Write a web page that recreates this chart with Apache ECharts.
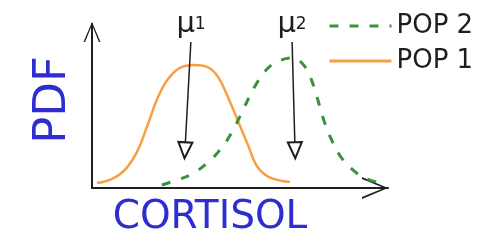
<!DOCTYPE html>
<html><head><meta charset="utf-8">
<script src="https://cdn.jsdelivr.net/npm/echarts@6/dist/echarts.min.js"></script>
<style>html,body{margin:0;padding:0;background:#fff}#c{width:500px;height:250px}</style>
</head><body><div id="c"></div>
<script>
// Hand-sketched densities (x: cortisol 0..100, y: pdf 0..1)
const seriesNames = ['POP 1', 'POP 2'];
const pop1X = [1.7, 6.8, 11.1, 15.2, 18.9, 22.3, 25.7, 29.7, 34.5, 38.9, 42.6, 45.9, 49.3, 52.7, 55.7, 59.8, 66.9];
const pop1Y = [0.030, 0.055, 0.110, 0.220, 0.390, 0.555, 0.665, 0.732, 0.750, 0.738, 0.677, 0.555, 0.409, 0.262, 0.134, 0.067, 0.037];
const pop2X = [23.6, 28.7, 33.8, 38.9, 43.2, 47.3, 51.0, 55.1, 59.5, 63.9, 67.6, 70.9, 73.6, 76.0, 78.4, 81.1, 84.1, 87.8, 92.2, 99.0];
const pop2Y = [0.018, 0.049, 0.085, 0.152, 0.232, 0.341, 0.476, 0.622, 0.732, 0.780, 0.793, 0.762, 0.683, 0.555, 0.409, 0.287, 0.189, 0.116, 0.061, 0.024];
// mean annotation arrows: [top x, tip x], shared [top y, tip y]
const meanSub = ['1', '2'];
const meanX = [[33.4, 31.4], [67.6, 68.6]];
const meanY = [0.89, 0.23];
const xAxisLabel = 'CORTISOL';
const yAxisLabel = 'PDF';

const ORANGE = '#f7a043', GREEN = '#3a923a', BLUE = '#2d2dd2', INK = '#1e1e1e';
const FONT = 'DejaVu Sans';
const zip = (xs, ys) => xs.map((x, i) => [x, ys[i]]);
const chevron = 'path://M0,26 L11,0 L22,26 L20,26 L11,4 L2,26 Z';

function meanLine(i) {
  return {
    silent: true,
    symbol: ['none', 'emptyTriangle'],
    symbolSize: [14, 16],
    lineStyle: { color: INK, width: 1.5, type: 'solid' },
    itemStyle: { color: INK },
    label: {
      show: true, position: 'start', distance: 3,
      formatter: '{m|μ}{s|' + meanSub[i] + '}',
      rich: {
        m: { fontSize: 29, color: INK, fontFamily: FONT },
        s: { fontSize: 17, color: INK, fontFamily: FONT }
      }
    },
    emphasis: { disabled: true },
    data: [[{ coord: [meanX[i][0], meanY[0]] }, { coord: [meanX[i][1], meanY[1]] }]]
  };
}

const legendBase = {
  left: 323, itemWidth: 62, itemHeight: 24, selectedMode: false,
  itemStyle: { opacity: 0 },
  lineStyle: { width: 3 },
  textStyle: { fontSize: 26, color: INK, fontFamily: FONT }
};

const chart = echarts.init(document.getElementById('c'), null, { renderer: 'canvas' });
chart.setOption({
  animation: false,
  grid: { left: 92, right: 112, top: 24, bottom: 62 },
  legend: [
    Object.assign({ data: [seriesNames[1]], top: 8 }, legendBase),
    Object.assign({ data: [seriesNames[0]], top: 43 }, legendBase)
  ],
  xAxis: {
    type: 'value', min: 0, max: 100,
    name: xAxisLabel, nameLocation: 'middle', nameGap: 10,
    nameTextStyle: { fontSize: 39, color: BLUE, fontFamily: FONT, padding: [0, 60, 0, 0], verticalAlign: 'top' },
    axisLine: { show: true, onZero: false, lineStyle: { color: INK, width: 2 },
      symbol: ['none', chevron], symbolSize: [22, 26], symbolOffset: [0, -13] },
    axisTick: { show: false }, axisLabel: { show: false }, splitLine: { show: false }
  },
  yAxis: {
    type: 'value', min: 0, max: 1,
    name: yAxisLabel, nameLocation: 'middle', nameGap: 16, nameRotate: 90,
    nameTextStyle: { fontSize: 45, color: BLUE, fontFamily: FONT, padding: [0, 0, 0, 12] },
    axisLine: { show: true, onZero: false, lineStyle: { color: INK, width: 2 },
      symbol: ['none', chevron], symbolSize: [22, 20], symbolOffset: [0, -8] },
    axisTick: { show: false }, axisLabel: { show: false }, splitLine: { show: false }
  },
  series: [
    { name: seriesNames[0], type: 'line', smooth: 0.4, symbol: 'none',
      data: zip(pop1X, pop1Y), color: ORANGE,
      lineStyle: { color: ORANGE, width: 2.5 }, markLine: meanLine(0) },
    { name: seriesNames[1], type: 'line', smooth: 0.4, symbol: 'none',
      data: zip(pop2X, pop2Y), color: GREEN,
      lineStyle: { color: GREEN, width: 3, type: [9, 11] }, markLine: meanLine(1) }
  ]
});
</script></body></html>
